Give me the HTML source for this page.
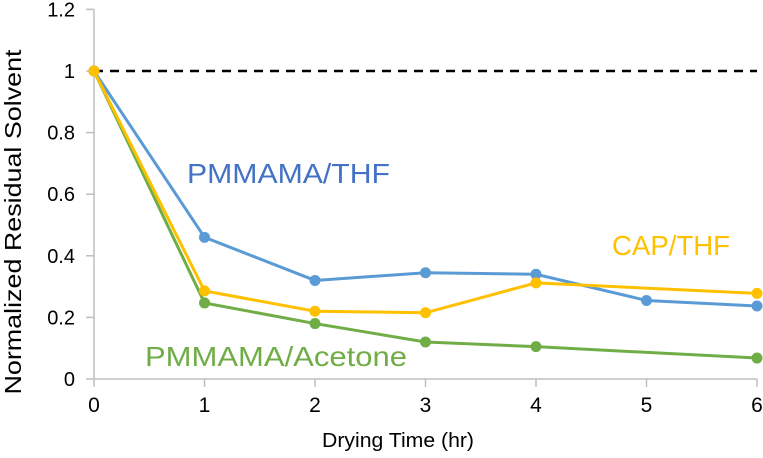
<!DOCTYPE html>
<html><head><meta charset="utf-8"><style>
body{margin:0;background:#fff}
svg{display:block;font-family:"Liberation Sans",sans-serif}
</style></head><body>
<svg id="chart" width="763" height="458"></svg>
<script>
const xCats=[0,1,2,3,4,5,6];
const yTicks=[0,0.2,0.4,0.6,0.8,1,1.2];
const yTickLabels=["0","0.2","0.4","0.6","0.8","1","1.2"];
const pmmamaThf=[1,0.46,0.32,0.345,0.34,0.255,0.237];
const capThf=[1,0.286,0.22,0.215,0.312,null,0.278];
const pmmamaAcetone=[1,0.247,0.18,0.12,0.105,null,0.068];
const NS="http://www.w3.org/2000/svg";
const svg=document.getElementById('chart');
const X=v=>94+v*110.5, Y=v=>379-v*308;
function mk(t,a,p){const e=document.createElementNS(NS,t);for(const k in a)e.setAttribute(k,a[k]);(p||svg).appendChild(e);return e;}
let ax=mk('line',{x1:X(0),y1:Y(0),x2:X(6),y2:Y(0),stroke:'#bfbfbf','stroke-width':1.5});

let ay=mk('line',{x1:X(0),y1:Y(0),x2:X(0),y2:Y(1.2),stroke:'#bfbfbf','stroke-width':1.5});

yTicks.forEach((v,i)=>{
 let tk=mk('line',{x1:X(0)-8,y1:Y(v),x2:X(0),y2:Y(v),stroke:'#bfbfbf','stroke-width':1.5});
 
 let t=mk('text',{x:75,y:Y(v)+7,'text-anchor':'end','font-size':20,fill:'#000'});t.textContent=yTickLabels[i];
 
});
xCats.forEach(v=>{
 let tk=mk('line',{x1:X(v),y1:Y(0),x2:X(v),y2:Y(0)+8,stroke:'#bfbfbf','stroke-width':1.5});
 
 let t=mk('text',{x:X(v),y:412,'text-anchor':'middle','font-size':21,fill:'#000'});t.textContent=String(v);
 
});
let xt=mk('text',{x:398,y:447,'text-anchor':'middle','font-size':20,textLength:152,lengthAdjust:'spacingAndGlyphs'});xt.textContent='Drying Time (hr)';

let yt=mk('text',{x:0,y:0,'text-anchor':'middle','font-size':23,textLength:345,lengthAdjust:'spacingAndGlyphs',transform:'translate(21,222) rotate(-90)'});yt.textContent='Normalized Residual Solvent';

let ref=mk('line',{x1:X(0),y1:Y(1),x2:X(6),y2:Y(1),stroke:'#000','stroke-width':2.5,'stroke-dasharray':'9,7'});

function series(data,color,name){
 const g=mk('g',{});
 const pts=[];data.forEach((v,i)=>{if(v!==null)pts.push([X(xCats[i]),Y(v)]);});
 const pl=mk('polyline',{points:pts.map(p=>p.join(',')).join(' '),fill:'none',stroke:color,'stroke-width':3},g);
 
 pts.forEach(p=>{const c=mk('circle',{cx:p[0],cy:p[1],r:5.5,fill:color},g);
  });
}
series(pmmamaAcetone,'#70ad47','pmmama-acetone-series');
series(pmmamaThf,'#5b9bd5','pmmama-thf-series');
series(capThf,'#ffc000','cap-thf-series');
function lab(txt,x,y,w,c,n){const t=mk('text',{x:x,y:y,'font-size':28,fill:c,textLength:w,lengthAdjust:'spacingAndGlyphs'});t.textContent=txt;
 }
lab('PMMAMA/THF',187,183,203,'#4472c4','pmmama-thf-label');
lab('CAP/THF',612,255,118,'#ffc000','cap-thf-label');
lab('PMMAMA/Acetone',145,366,262,'#70ad47','pmmama-acetone-label');
</script>
</body></html>
